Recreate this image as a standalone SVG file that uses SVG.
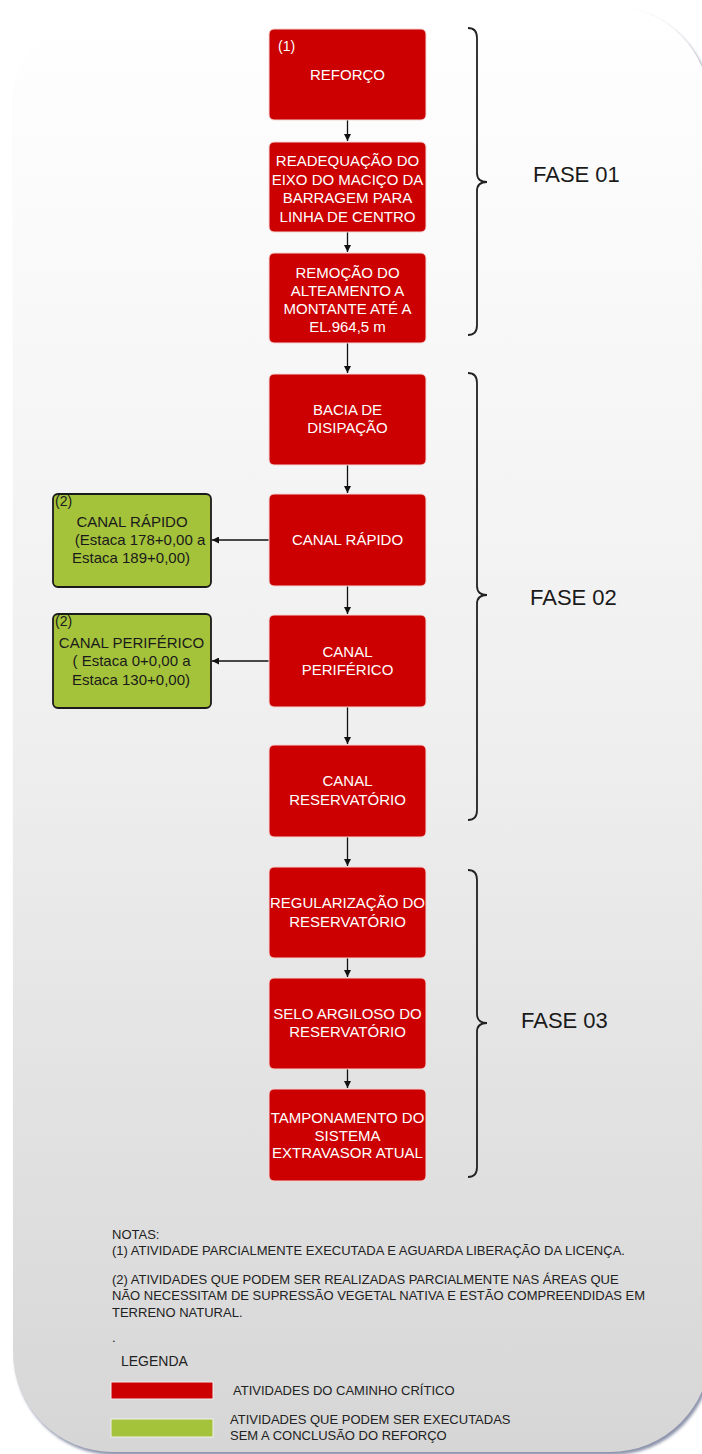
<svg xmlns="http://www.w3.org/2000/svg" width="702" height="1454" viewBox="0 0 702 1454">
<defs>
<linearGradient id="bg" x1="0" y1="0" x2="0" y2="1">
<stop offset="0" stop-color="#ffffff"/>
<stop offset="0.5" stop-color="#efefef"/>
<stop offset="1" stop-color="#d6d6d6"/>
</linearGradient>
<filter id="blur" x="-5%" y="-5%" width="110%" height="110%"><feGaussianBlur stdDeviation="1.5"/></filter>
<marker id="ah" viewBox="0 0 10 10" refX="10" refY="5" markerWidth="7" markerHeight="7" markerUnits="userSpaceOnUse" orient="auto">
<path d="M0,0 L10,5 L0,10 Z" fill="#111"/>
</marker>
<style>
.red{fill:#cc0000;stroke:#f3d6d6;stroke-width:1}
.grn{fill:#a4c23a;stroke:#1a1a1a;stroke-width:1.8}
.wt{font-family:"Liberation Sans",Arial,sans-serif;font-size:15px;fill:#ffffff;text-anchor:middle}
.gt{font-family:"Liberation Sans",Arial,sans-serif;font-size:15px;fill:#1a1a1a;text-anchor:middle}
.sm{font-family:"Liberation Sans",Arial,sans-serif;font-size:14px}
.fase{font-family:"Liberation Sans",Arial,sans-serif;font-size:22px;fill:#1a1a1a}
.note{font-family:"Liberation Sans",Arial,sans-serif;font-size:13px;fill:#222}
.con{stroke:#111;stroke-width:1.3;fill:none;marker-end:url(#ah)}
.brace{stroke:#222;stroke-width:1.8;fill:none}
</style>
</defs>
<rect width="702" height="1454" fill="#ffffff"/>
<g id="background">
<rect x="15" y="9" width="697" height="1446" rx="100" ry="100" fill="#8c93ab" filter="url(#blur)"/>
<rect x="13" y="6" width="697" height="1446" rx="100" ry="100" fill="url(#bg)"/>
</g>

<g id="connectors">
<line class="con" x1="347.5" y1="120" x2="347.5" y2="141"/>
<line class="con" x1="347.5" y1="232" x2="347.5" y2="252"/>
<line class="con" x1="347.5" y1="343" x2="347.5" y2="373"/>
<line class="con" x1="347.5" y1="465" x2="347.5" y2="493"/>
<line class="con" x1="347.5" y1="586" x2="347.5" y2="614"/>
<line class="con" x1="347.5" y1="707" x2="347.5" y2="744"/>
<line class="con" x1="347.5" y1="837" x2="347.5" y2="866"/>
<line class="con" x1="347.5" y1="958" x2="347.5" y2="977"/>
<line class="con" x1="347.5" y1="1069" x2="347.5" y2="1088"/>
<line class="con" x1="269" y1="540" x2="212" y2="540"/>
<line class="con" x1="269" y1="661" x2="212" y2="661"/>
</g>

<g id="n1">
<rect class="red" x="269" y="29" width="157" height="91" rx="5"/>
<text class="sm" x="278" y="51" fill="#ffffff">(1)</text>
<text class="wt" x="347.5" y="80">REFORÇO</text>
</g>
<g id="n2">
<rect class="red" x="269" y="142" width="157" height="90" rx="5"/>
<text class="wt" x="347.5" y="166">READEQUAÇÃO DO</text>
<text class="wt" x="347.5" y="184.5">EIXO DO MACIÇO DA</text>
<text class="wt" x="347.5" y="203">BARRAGEM PARA</text>
<text class="wt" x="347.5" y="221.5">LINHA DE CENTRO</text>
</g>
<g id="n3">
<rect class="red" x="269" y="253" width="157" height="90" rx="5"/>
<text class="wt" x="347.5" y="278">REMOÇÃO DO</text>
<text class="wt" x="347.5" y="296">ALTEAMENTO A</text>
<text class="wt" x="347.5" y="314">MONTANTE ATÉ A</text>
<text class="wt" x="347.5" y="332">EL.964,5 m</text>
</g>
<g id="n4">
<rect class="red" x="269" y="374" width="157" height="91" rx="5"/>
<text class="wt" x="347.5" y="415">BACIA DE</text>
<text class="wt" x="347.5" y="433">DISIPAÇÃO</text>
</g>
<g id="n5">
<rect class="red" x="269" y="494" width="157" height="92" rx="5"/>
<text class="wt" x="347.5" y="545">CANAL RÁPIDO</text>
</g>
<g id="n6">
<rect class="red" x="269" y="615" width="157" height="92" rx="5"/>
<text class="wt" x="347.5" y="657">CANAL</text>
<text class="wt" x="347.5" y="675">PERIFÉRICO</text>
</g>
<g id="n7">
<rect class="red" x="269" y="745" width="157" height="92" rx="5"/>
<text class="wt" x="347.5" y="786">CANAL</text>
<text class="wt" x="347.5" y="805">RESERVATÓRIO</text>
</g>
<g id="n8">
<rect class="red" x="269" y="867" width="157" height="91" rx="5"/>
<text class="wt" x="347.5" y="908">REGULARIZAÇÃO DO</text>
<text class="wt" x="347.5" y="927">RESERVATÓRIO</text>
</g>
<g id="n9">
<rect class="red" x="269" y="978" width="157" height="91" rx="5"/>
<text class="wt" x="347.5" y="1019">SELO ARGILOSO DO</text>
<text class="wt" x="347.5" y="1037">RESERVATÓRIO</text>
</g>
<g id="n10">
<rect class="red" x="269" y="1089" width="157" height="92" rx="5"/>
<text class="wt" x="347.5" y="1123">TAMPONAMENTO DO</text>
<text class="wt" x="347.5" y="1141">SISTEMA</text>
<text class="wt" x="347.5" y="1158">EXTRAVASOR ATUAL</text>
</g>

<g id="g1">
<rect class="grn" x="53" y="494" width="158" height="93" rx="5"/>
<text class="sm" x="55" y="506" fill="#1a1a1a">(2)</text>
<text class="gt" x="132" y="527">CANAL RÁPIDO</text>
<text class="gt" x="140" y="545">(Estaca 178+0,00 a</text>
<text class="gt" x="131" y="563">Estaca 189+0,00)</text>
</g>
<g id="g2">
<rect class="grn" x="53" y="614" width="158" height="94" rx="5"/>
<text class="sm" x="55" y="626" fill="#1a1a1a">(2)</text>
<text class="gt" x="131.5" y="648">CANAL PERIFÉRICO</text>
<text class="gt" x="131.5" y="666">( Estaca 0+0,00 a</text>
<text class="gt" x="131" y="685">Estaca 130+0,00)</text>
</g>

<g id="fase01">
<path class="brace" d="M468,28 Q477,28 477,38 L477,173 Q477,182 487,182 Q477,182 477,191 L477,325 Q477,335 468,335"/>
<text class="fase" x="533" y="182">FASE 01</text>
</g>
<g id="fase02">
<path class="brace" d="M468,373 Q477,373 477,383 L477,586 Q477,595 487,595 Q477,595 477,604 L477,810 Q477,820 468,820"/>
<text class="fase" x="530" y="605">FASE 02</text>
</g>
<g id="fase03">
<path class="brace" d="M468,870 Q477,870 477,880 L477,1014 Q477,1023 487,1023 Q477,1023 477,1032 L477,1167 Q477,1177 468,1177"/>
<text class="fase" x="521" y="1028">FASE 03</text>
</g>

<g id="notes">
<text class="note" x="112" y="1239">NOTAS:</text>
<text class="note" x="112" y="1255">(1) ATIVIDADE PARCIALMENTE EXECUTADA E AGUARDA LIBERAÇÃO DA LICENÇA.</text>
<text class="note" x="112" y="1284">(2) ATIVIDADES QUE PODEM SER REALIZADAS PARCIALMENTE NAS ÁREAS QUE</text>
<text class="note" x="112" y="1300">NÃO NECESSITAM DE SUPRESSÃO VEGETAL NATIVA E ESTÃO COMPREENDIDAS EM</text>
<text class="note" x="112" y="1317">TERRENO NATURAL.</text>
<text class="note" x="112" y="1342">.</text>
</g>

<g id="legend">
<text class="note" x="121" y="1366" style="font-size:14px">LEGENDA</text>
<rect x="111" y="1382" width="102" height="17" fill="#cc0000" stroke="#f0f0f0" stroke-width="1"/>
<text class="note" x="233" y="1395">ATIVIDADES DO CAMINHO CRÍTICO</text>
<rect x="111" y="1419" width="102" height="18" fill="#a4c23a" stroke="#f0f0f0" stroke-width="1"/>
<text class="note" x="230" y="1424">ATIVIDADES QUE PODEM SER EXECUTADAS</text>
<text class="note" x="230" y="1440">SEM A CONCLUSÃO DO REFORÇO</text>
</g>
</svg>
